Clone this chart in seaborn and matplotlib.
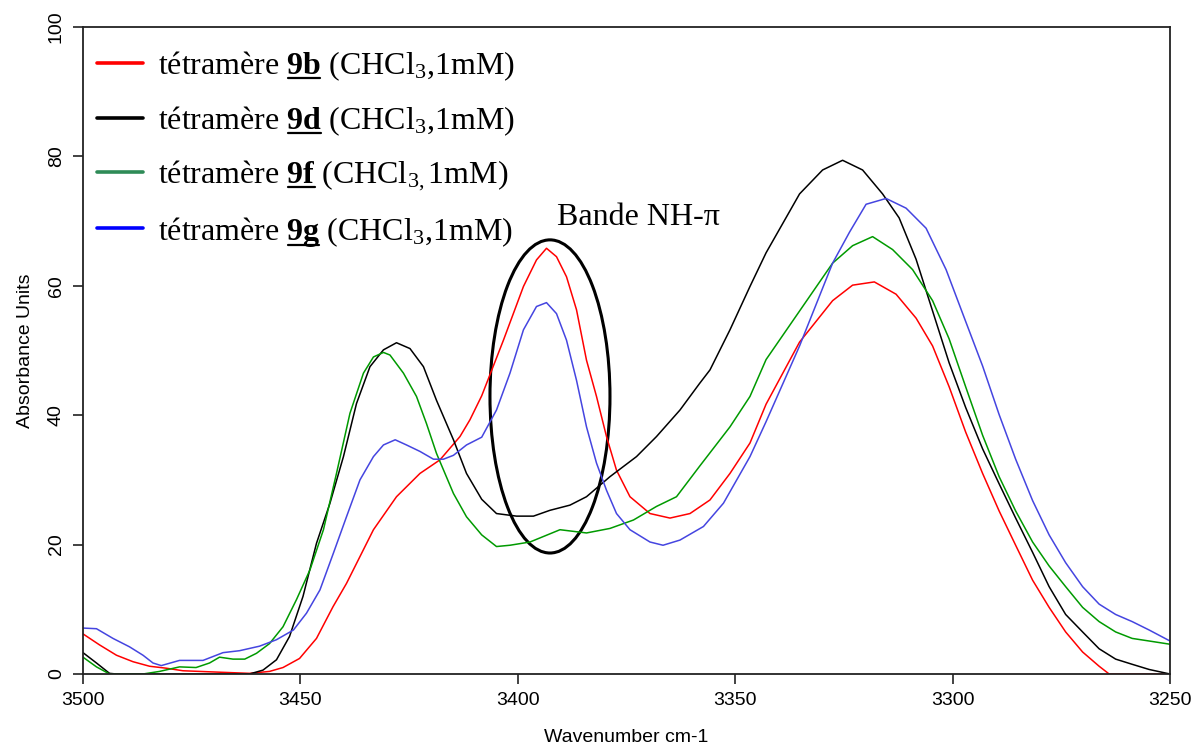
import numpy as np
import pandas as pd
import seaborn as sns
import matplotlib
matplotlib.use("Agg")
import matplotlib.pyplot as plt
from matplotlib.lines import Line2D
from matplotlib.patches import Ellipse

# ---------------- data ----------------
wn_9b = [3500, 3496.2, 3492.3, 3488.5, 3484.7, 3480.9, 3477.0, 3469.4, 3461.7, 3457.1, 3454.0,
         3450.2, 3446.3, 3442.5, 3439.4, 3433.2, 3427.9, 3422.5, 3417.9, 3413.3, 3411.0, 3408.3,
         3403.3, 3398.7, 3395.7, 3393.4, 3391.1, 3388.8, 3386.5, 3384.2, 3381.9, 3379.6, 3377.3,
         3374.2, 3369.6, 3365.0, 3360.4, 3355.8, 3351.2, 3346.6, 3342.9, 3335.2, 3327.6, 3323.0,
         3318.0, 3313.0, 3308.4, 3304.6, 3300.8, 3297.0, 3293.1, 3289.3, 3285.5, 3281.6, 3277.8,
         3274.0, 3270.1, 3266.3, 3264.0, 3250]
ab_9b = [6.2, 4.5, 2.9, 1.9, 1.2, 0.9, 0.5, 0.3, 0.1, 0.4, 1.0,
         2.4, 5.5, 10.4, 14.0, 22.3, 27.4, 31.0, 33.1, 36.7, 39.3, 43.0,
         51.6, 59.9, 64.0, 65.8, 64.5, 61.4, 56.3, 48.5, 42.9, 36.7, 31.5,
         27.4, 24.8, 24.1, 24.8, 26.9, 31.0, 35.7, 41.7, 51.3, 57.7, 60.1,
         60.6, 58.7, 55.0, 50.7, 44.4, 37.4, 31.0, 25.2, 19.9, 14.5, 10.3,
         6.5, 3.4, 1.2, 0.0, 0.0]

wn_9d = [3500, 3496.9, 3493.9, 3492.3, 3461.7, 3458.6, 3455.5, 3452.5, 3449.4, 3446.3, 3443.2,
         3440.1, 3437.1, 3434.0, 3430.9, 3427.9, 3424.8, 3421.7, 3418.7, 3414.8, 3411.8, 3408.3,
         3404.9, 3400.3, 3396.4, 3392.6, 3388.0, 3384.2, 3378.8, 3372.7, 3368.1, 3362.7, 3358.2,
         3355.8, 3351.2, 3346.6, 3342.9, 3335.2, 3329.9, 3325.3, 3320.7, 3316.1, 3312.3, 3308.4,
         3304.6, 3300.8, 3297.0, 3293.1, 3289.3, 3285.5, 3281.6, 3277.8, 3274.0, 3270.1, 3266.3,
         3262.5, 3258.7, 3254.8, 3250]
ab_9d = [3.3, 1.7, 0.1, 0.0, 0.0, 0.6, 2.2, 5.8, 12.0, 20.2, 26.4,
         33.6, 41.8, 47.5, 50.1, 51.2, 50.3, 47.5, 42.3, 36.2, 31.0, 27.0,
         24.8, 24.4, 24.4, 25.3, 26.1, 27.4, 30.5, 33.6, 36.7, 40.8, 44.9,
         47.0, 53.2, 59.9, 65.1, 74.2, 77.9, 79.4, 77.9, 74.2, 70.5, 64.1,
         56.1, 48.1, 41.2, 34.8, 29.4, 24.1, 18.8, 13.5, 9.2, 6.5, 3.9,
         2.3, 1.5, 0.7, 0.0]

wn_9f = [3500, 3496.9, 3493.9, 3486.2, 3482.4, 3477.8, 3474.0, 3470.9, 3468.6, 3465.5, 3462.8,
         3460.1, 3457.1, 3454.0, 3450.9, 3447.8, 3444.7, 3441.7, 3438.6, 3435.5, 3433.2, 3430.9,
         3429.4, 3426.3, 3423.3, 3421.0, 3418.7, 3414.8, 3411.8, 3408.3, 3404.9, 3401.8, 3397.2,
         3390.3, 3384.2, 3378.8, 3373.4, 3368.1, 3363.5, 3358.2, 3351.2, 3346.6, 3342.9, 3335.2,
         3327.6, 3323.0, 3318.4, 3313.8, 3309.2, 3304.6, 3300.8, 3297.0, 3293.1, 3289.3, 3285.5,
         3281.6, 3277.8, 3274.0, 3270.1, 3266.3, 3262.5, 3258.7, 3254.8, 3250]
ab_9f = [2.6, 1.1, 0.0, 0.0, 0.4, 1.1, 1.0, 1.7, 2.6, 2.3, 2.3,
         3.2, 4.7, 7.3, 11.5, 16.1, 22.3, 31.0, 40.3, 46.5, 49.0, 49.7,
         49.3, 46.5, 42.9, 38.7, 34.1, 27.9, 24.3, 21.5, 19.7, 19.9, 20.4,
         22.3, 21.8, 22.5, 23.8, 25.9, 27.4, 32.1, 38.2, 42.9, 48.6, 56.1,
         63.5, 66.2, 67.6, 65.6, 62.5, 57.7, 51.8, 44.4, 36.9, 30.5, 25.2,
         20.4, 16.7, 13.5, 10.3, 8.1, 6.5, 5.5, 5.1, 4.6]

wn_9g = [3500, 3496.9, 3493.1, 3489.3, 3486.2, 3483.9, 3482.0, 3477.8, 3472.4, 3467.8, 3464.0,
         3459.4, 3455.5, 3451.6, 3448.6, 3445.5, 3442.4, 3439.4, 3436.3, 3433.2, 3430.9, 3428.2,
         3425.6, 3422.5, 3419.4, 3417.1, 3414.8, 3411.8, 3408.3, 3404.9, 3401.8, 3398.7, 3395.7,
         3393.4, 3391.1, 3388.8, 3386.5, 3384.2, 3381.9, 3379.6, 3377.3, 3374.2, 3369.6, 3366.6,
         3362.7, 3357.3, 3352.7, 3346.6, 3342.9, 3335.2, 3327.6, 3323.7, 3319.9, 3315.3, 3310.7,
         3306.1, 3301.5, 3297.0, 3293.1, 3289.3, 3285.5, 3281.6, 3277.8, 3274.0, 3270.1, 3266.3,
         3262.5, 3258.7, 3254.8, 3250]
ab_9g = [7.1, 7.0, 5.5, 4.2, 2.9, 1.7, 1.3, 2.1, 2.1, 3.3, 3.6,
         4.3, 5.3, 6.8, 9.4, 13.0, 18.7, 24.3, 30.0, 33.6, 35.4, 36.2,
         35.4, 34.4, 33.2, 33.2, 33.8, 35.4, 36.6, 40.8, 46.5, 53.2, 56.8,
         57.4, 55.7, 51.6, 45.4, 38.2, 32.6, 28.4, 24.8, 22.3, 20.4, 19.9,
         20.7, 22.8, 26.4, 33.6, 39.0, 50.7, 63.5, 68.3, 72.6, 73.5, 72.0,
         68.9, 62.5, 54.5, 47.6, 40.1, 33.2, 26.8, 21.5, 17.2, 13.5, 10.8,
         9.2, 8.1, 6.8, 5.1]

codes = ["9b", "9d", "9f", "9g"]
curve_colors = ["#ff0000", "#000000", "#009a00", "#4545e0"]
legend_colors = ["#ff0000", "#000000", "#2e8b57", "#0000ff"]
x_ticks = [3500, 3450, 3400, 3350, 3300, 3250]
y_ticks = [0, 20, 40, 60, 80, 100]
annotation = "Bande NH-\u03c0"
x_label = "Wavenumber cm-1"
y_label = "Absorbance Units"

# ---------------- style ----------------
sns.set_style("white")
plt.rcParams["font.family"] = ["Liberation Sans", "DejaVu Sans"]
plt.rcParams["text.color"] = "black"
plt.rcParams["axes.labelcolor"] = "black"
plt.rcParams["xtick.color"] = "black"
plt.rcParams["ytick.color"] = "black"
plt.rcParams["mathtext.fontset"] = "custom"
plt.rcParams["mathtext.rm"] = "Liberation Serif"
plt.rcParams["mathtext.it"] = "Liberation Serif:italic"
plt.rcParams["mathtext.bf"] = "Liberation Serif:bold"

fig = plt.figure(figsize=(11.95, 7.48), dpi=100)
ax = fig.add_axes([83 / 1195, 74 / 748, 1087 / 1195, 647 / 748])

series = [(wn_9b, ab_9b), (wn_9d, ab_9d), (wn_9f, ab_9f), (wn_9g, ab_9g)]
for (wn, ab), c in zip(series, curve_colors):
    df = pd.DataFrame({"wn": wn, "ab": ab})
    sns.lineplot(data=df, x="wn", y="ab", color=c, lw=1.1, ax=ax, sort=False)

ax.set_xlim(3500, 3250)
ax.set_ylim(0, 100)
ax.set_xticks(x_ticks)
ax.set_yticks(y_ticks)
ax.set_xticklabels([str(v) for v in x_ticks], fontsize=14)
ax.set_yticklabels([str(v) for v in y_ticks], fontsize=14, rotation=90, va="center")
ax.tick_params(axis="both", which="major", direction="out", length=7, width=1.2,
               color="#222222", labelcolor="black",
               bottom=True, left=True, top=False, right=False)
ax.tick_params(axis="x", pad=6)
ax.tick_params(axis="y", pad=6)
ax.set_xlabel(x_label, fontsize=14, labelpad=14, color="black")
ax.set_ylabel(y_label, fontsize=14, labelpad=10, color="black")
for s in ax.spines.values():
    s.set_visible(True)
    s.set_linewidth(1.3)
    s.set_color("#222222")

# ellipse + annotation
ax.add_patch(Ellipse((3392.6, 42.9), 27.6, 48.4, fill=False, lw=2.2, ec="black"))
ax.text(3391.0, 70.5, annotation, fontsize=23, family="Liberation Serif", va="center",
        ha="left", color="black")

# legend
labels = []
for code in codes:
    sub = "$_{3,}$" if code == "9f" else "$_{3}$,"
    labels.append("tétramère $\\mathbf{" + code + "}$ (CHCl" + sub + "1mM)")
handles = [Line2D([0], [0], color=c, lw=2.6) for c in legend_colors]
leg = ax.legend(handles, labels, loc="upper left", bbox_to_anchor=(0.0129, 0.966),
                frameon=False, prop={"family": "Liberation Serif", "size": 23},
                handlelength=1.45, handletextpad=0.45, labelspacing=0.67,
                borderpad=0, borderaxespad=0, labelcolor="black")

fig.canvas.draw()
renderer = fig.canvas.get_renderer()
W, H = fig.bbox.width, fig.bbox.height
for i, (txt, code) in enumerate(zip(leg.get_texts(), codes)):
    bb = txt.get_window_extent(renderer)
    fp = txt.get_fontproperties()
    t1 = fig.text(0, 0, "tétramère ", fontproperties=fp)
    t2 = fig.text(0, 0, "tétramère $\\mathbf{" + code + "}$", fontproperties=fp)
    w1 = t1.get_window_extent(renderer).width
    w2 = t2.get_window_extent(renderer).width
    t1.remove(); t2.remove()
    lb = leg.get_lines()[i].get_window_extent(renderer)
    yc = 0.5 * (lb.y0 + lb.y1)
    yu = yc - (17 if code == "9g" else 15)
    fig.add_artist(Line2D([(bb.x0 + w1 + 1) / W, (bb.x0 + w2 - 1) / W], [yu / H, yu / H],
                          transform=fig.transFigure, color="black", lw=1.6))

fig.savefig("out.png", dpi=100)
